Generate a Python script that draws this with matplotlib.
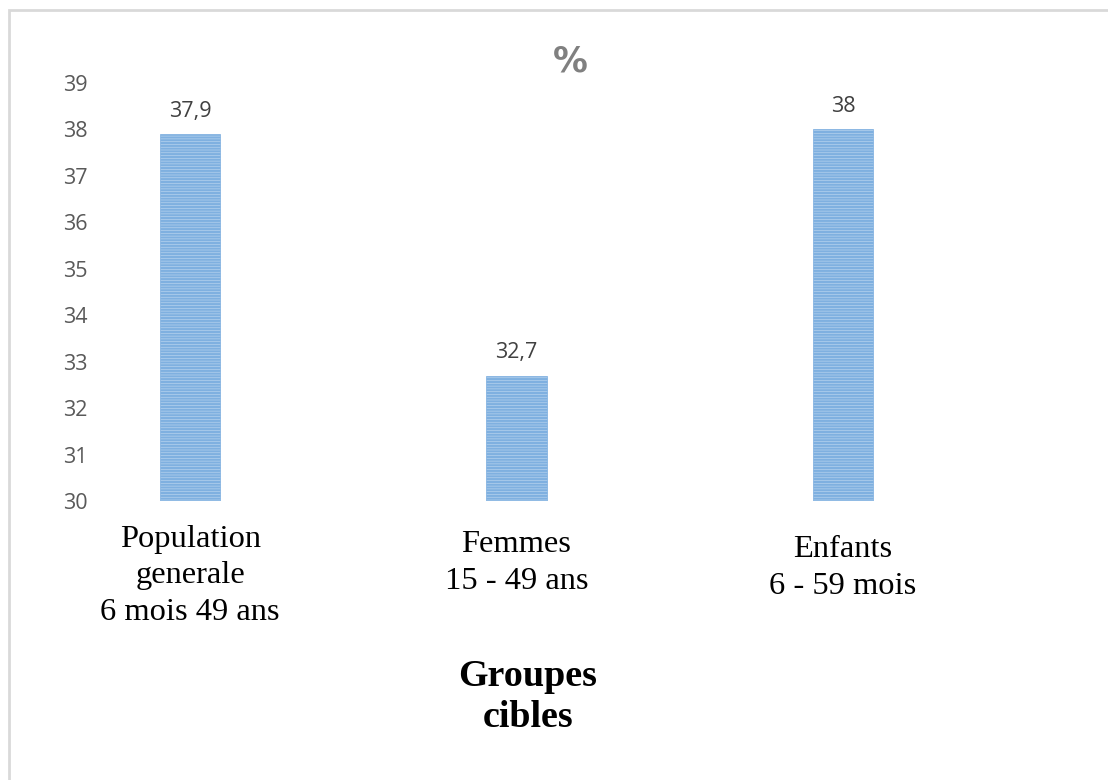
import matplotlib.pyplot as plt
import matplotlib.patches as mpatches
from matplotlib.transforms import blended_transform_factory

categories = ['Population\ngenerale\n6 mois 49 ans', 'Femmes\n15 - 49 ans', 'Enfants\n6 - 59 mois']
values = [37.9, 32.7, 38.0]
value_labels = ['37,9', '32,7', '38']
yticks = [30, 31, 32, 33, 34, 35, 36, 37, 38, 39]

plt.rcParams['hatch.color'] = '#5393d3'
plt.rcParams['hatch.linewidth'] = 1.6

fig = plt.figure(figsize=(11.08, 7.80), dpi=100)
ax = fig.add_axes([100 / 1108, 1 - 501 / 780, 833 / 1108, (501 - 83) / 780])

x = list(range(len(values)))
ax.bar(x, [v - 30 for v in values], bottom=30, width=0.184,
       color='#c2daf1', edgecolor='#7fb0e0', linewidth=0.5, hatch='------')

for xi, v, lab in zip(x, values, value_labels):
    ax.annotate(lab, (xi, v), xytext=(0, 9), textcoords='offset points',
                ha='center', va='bottom', fontsize=15.5, color='#404040',
                family='Open Sans')

ax.set_xlim(-0.276, 2.276)
ax.set_ylim(30, 39)
ax.set_yticks(yticks)
ax.set_yticklabels([str(t) for t in yticks], fontsize=15.5, color='#595959',
                   family='Open Sans')
ax.tick_params(axis='y', length=0, pad=9)
ax.set_xticks([])
for s in ax.spines.values():
    s.set_visible(False)

# category labels (slightly staggered as in the original)
trans = blended_transform_factory(ax.transData, fig.transFigure)
label_centers = [576, 563, 568]
for xi, cat, cy in zip(x, categories, label_centers):
    ax.text(xi, 1 - cy / 780, cat, transform=trans, ha='center', va='center',
            fontsize=23.4, family='Liberation Serif', linespacing=1.32, color='black')

fig.text(528 / 1108, 1 - 697 / 780, 'Groupes\ncibles', ha='center', va='center',
         fontsize=27.4, fontweight='bold', family='Liberation Serif', linespacing=1.24)

fig.text(570 / 1108, 1 - 62 / 780, '%', ha='center', va='center',
         fontsize=25, fontweight='bold', color='#808080', family='DejaVu Sans')

# outer frame
fig.patches.append(mpatches.Rectangle((9 / 1108, -0.01), 1.1, 1 - 10 / 780 + 0.01,
                                      transform=fig.transFigure, fill=False,
                                      edgecolor='#d9d9d9', linewidth=2))

fig.savefig('out.png', dpi=100)
